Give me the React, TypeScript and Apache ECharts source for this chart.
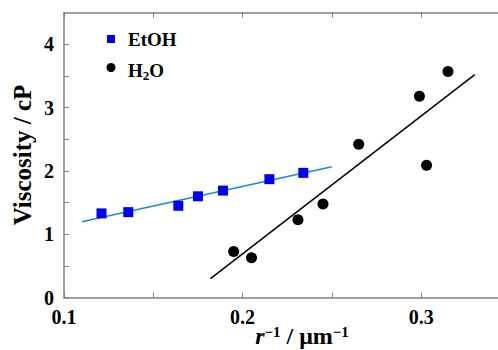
import React, { useEffect, useRef } from "react";
import * as echarts from "echarts";

const etohX = [0.121, 0.136, 0.164, 0.175, 0.189, 0.215, 0.234];
const etohY = [1.33, 1.35, 1.45, 1.6, 1.69, 1.87, 1.97];
const waterX = [0.195, 0.205, 0.231, 0.245, 0.265, 0.299, 0.303, 0.315];
const waterY = [0.73, 0.63, 1.23, 1.48, 2.42, 3.18, 2.09, 3.57];
const etohFitX = [0.11, 0.25];
const etohFitY = [1.2, 2.065];
const waterFitX = [0.182, 0.33];
const waterFitY = [0.3, 3.52];

const FONT = "'Liberation Serif', 'Times New Roman', serif";
const AXIS_COLOR = "#808080";

const zip = (xs: number[], ys: number[]) => xs.map((x, i) => [x, ys[i]]);

export default function App() {
  const ref = useRef<HTMLDivElement>(null);
  useEffect(() => {
    document.body.style.margin = "0";
    const chart = echarts.init(ref.current!, null, { renderer: "svg" });
    const isMult = (v: number, step: number) =>
      Math.abs(v / step - Math.round(v / step)) < 1e-6;
    chart.setOption({
      animation: false,
      backgroundColor: "#ffffff",
      grid: { left: 64, right: 0, top: 12.5, bottom: 52.3 },
      xAxis: [
        {
          type: "value",
          min: 0.1,
          max: 0.343,
          interval: 0.05,
          position: "bottom",
          splitLine: { show: false },
          axisLine: { lineStyle: { color: AXIS_COLOR, width: 1.5 } },
          axisTick: { inside: true, length: 5, lineStyle: { color: AXIS_COLOR, width: 1 } },
          axisLabel: {
            margin: 9,
            color: "#000",
            fontFamily: FONT,
            fontWeight: "bold",
            fontSize: 20,
            showMaxLabel: false,
            formatter: (v: number) => (isMult(v, 0.1) ? v.toFixed(1) : ""),
          },
        },
        {
          type: "value",
          min: 0.1,
          max: 0.343,
          interval: 0.05,
          position: "top",
          splitLine: { show: false },
          axisLine: { lineStyle: { color: AXIS_COLOR, width: 1.5 } },
          axisTick: { inside: true, length: 5, lineStyle: { color: AXIS_COLOR, width: 1 } },
          axisLabel: { show: false },
        },
      ],
      yAxis: {
        type: "value",
        min: 0,
        max: 4.5,
        interval: 0.5,
        splitLine: { show: false },
        axisLine: { show: true, lineStyle: { color: AXIS_COLOR, width: 1.5 } },
        axisTick: { show: true, inside: true, length: 5, lineStyle: { color: AXIS_COLOR, width: 1 } },
        axisLabel: {
          margin: 10,
          color: "#000",
          fontFamily: FONT,
          fontWeight: "bold",
          fontSize: 20,
          showMaxLabel: false,
          formatter: (v: number) => (isMult(v, 1) ? String(Math.round(v)) : ""),
        },
      },
      series: [
        {
          name: "EtOH fit",
          type: "line",
          data: zip(etohFitX, etohFitY),
          symbol: "none",
          lineStyle: { color: "#1e88d2", width: 1.5 },
          z: 2,
        },
        {
          name: "H2O fit",
          type: "line",
          data: zip(waterFitX, waterFitY),
          symbol: "none",
          lineStyle: { color: "#000000", width: 1.5 },
          z: 2,
        },
        {
          name: "EtOH",
          type: "scatter",
          data: zip(etohX, etohY),
          symbol: "rect",
          symbolSize: 10,
          itemStyle: { color: "#0000ee", opacity: 1 },
          z: 3,
        },
        {
          name: "H2O",
          type: "scatter",
          data: zip(waterX, waterY),
          symbol: "circle",
          symbolSize: 11,
          itemStyle: { color: "#000000", opacity: 1 },
          z: 3,
        },
      ],
      graphic: [
        {
          type: "rect",
          shape: { x: 107, y: 35, width: 8, height: 8 },
          style: { fill: "#0000ee" },
        },
        {
          type: "text",
          x: 128,
          y: 39,
          style: {
            text: "EtOH",
            fill: "#000",
            font: `bold 19px ${FONT}`,
            textAlign: "left",
            textVerticalAlign: "middle",
          },
        },
        {
          type: "circle",
          shape: { cx: 111, cy: 67.5, r: 4.5 },
          style: { fill: "#000" },
        },
        {
          type: "text",
          x: 128,
          y: 70,
          style: {
            text: "{n|H}{s|2}{n|O}",
            textAlign: "left",
            textVerticalAlign: "middle",
            rich: {
              n: { fontFamily: FONT, fontWeight: "bold", fontSize: 19, color: "#000", lineHeight: 24, verticalAlign: "middle" },
              s: { fontFamily: FONT, fontWeight: "bold", fontSize: 13, color: "#000", lineHeight: 24, verticalAlign: "bottom" },
            },
          },
        },
        {
          type: "text",
          x: 22,
          y: 155,
          rotation: Math.PI / 2,
          style: {
            text: "Viscosity / cP",
            fill: "#000",
            font: `bold 25px ${FONT}`,
            textAlign: "center",
            textVerticalAlign: "middle",
          },
        },
        {
          type: "text",
          x: 302,
          y: 336,
          style: {
            text: "{i|r}{s|−1}{n| / μm}{s|−1}",
            textAlign: "center",
            textVerticalAlign: "middle",
            rich: {
              i: { fontFamily: FONT, fontWeight: "bold", fontStyle: "italic", fontSize: 24, color: "#000", lineHeight: 24, verticalAlign: "middle" },
              n: { fontFamily: FONT, fontWeight: "bold", fontSize: 24, color: "#000", lineHeight: 24, verticalAlign: "middle" },
              s: { fontFamily: FONT, fontWeight: "bold", fontSize: 15, color: "#000", lineHeight: 24, verticalAlign: "top" },
            },
          },
        },
      ],
    });
    return () => chart.dispose();
  }, []);
  return (
    <div
      ref={ref}
      style={{ position: "fixed", left: 0, top: 0, width: 498, height: 350 }}
    />
  );
}
